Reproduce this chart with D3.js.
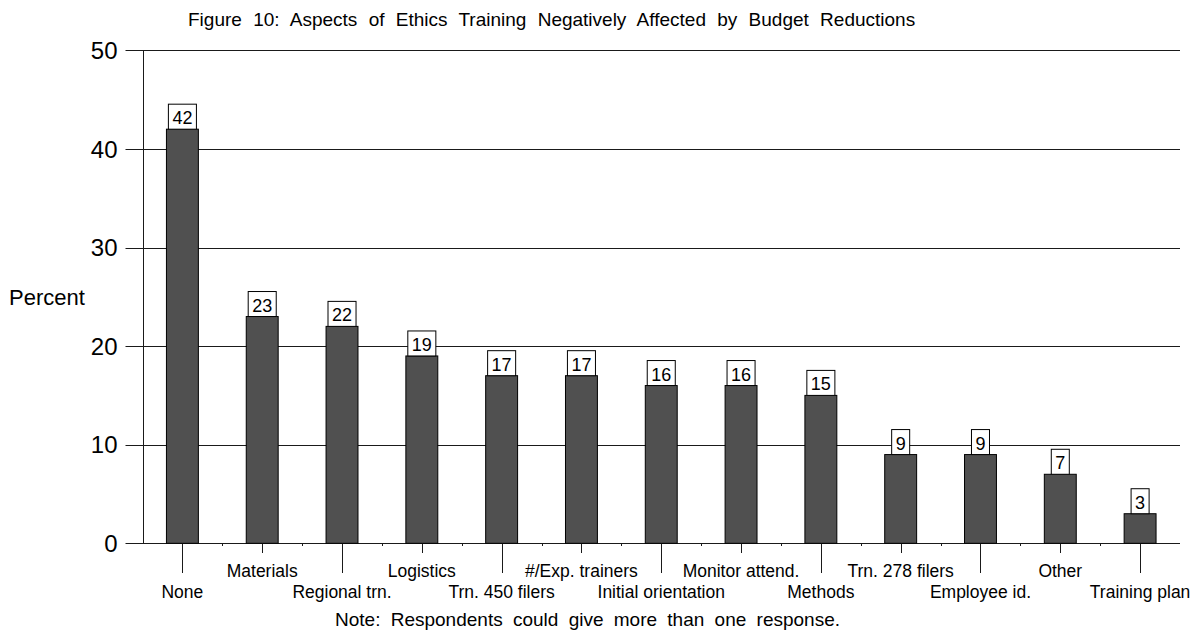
<!DOCTYPE html>
<html>
<head>
<meta charset="utf-8">
<script src="https://cdn.jsdelivr.net/npm/d3@7"></script>
<style>
  html, body { margin: 0; padding: 0; background: #fff; }
  svg { display: block; font-family: Arial, "Liberation Sans", sans-serif; }
</style>
</head>
<body>
<svg id="chart" width="1199" height="633"></svg>
<script>
// Budget-reduction impact on ethics training aspects (% of respondents)
const categories = [
  "None", "Materials", "Regional trn.", "Logistics", "Trn. 450 filers",
  "#/Exp. trainers", "Initial orientation", "Monitor attend.", "Methods",
  "Trn. 278 filers", "Employee id.", "Other", "Training plan"
];
const percents = [42, 23, 22, 19, 17, 17, 16, 16, 15, 9, 9, 7, 3];
const yTicks = [0, 10, 20, 30, 40, 50];

const titleText = "Figure 10: Aspects of Ethics Training Negatively Affected by Budget Reductions";
const yTitle = "Percent";
const noteText = "Note: Respondents could give more than one response.";

const svg = d3.select("#chart");

const plotLeft = 142.5, plotRight = 1180, plotTop = 50.3, plotBottom = 543.3;

const x = d3.scaleBand().domain(categories).range([plotLeft, plotRight]).paddingInner(0).paddingOuter(0);
const y = d3.scaleLinear().domain([0, 50]).range([plotBottom, plotTop]);

const barW = x.bandwidth() * 0.4;

// title
svg.append("text")
  .attr("x", 188).attr("y", 26)
  .attr("font-size", 19)
  .attr("word-spacing", 6)
  .attr("fill", "#000")
  .text(titleText);

// horizontal grid lines and y ticks
const grid = svg.append("g");
grid.selectAll("line").data(yTicks).join("line")
  .attr("x1", plotLeft - 17).attr("x2", plotRight)
  .attr("y1", d => Math.round(y(d)) + 0.5).attr("y2", d => Math.round(y(d)) + 0.5)
  .attr("stroke", "#1a1a1a").attr("stroke-width", 1);

grid.selectAll("text").data(yTicks).join("text")
  .attr("x", 117.5).attr("y", d => y(d))
  .attr("dy", "0.36em")
  .attr("text-anchor", "end")
  .attr("font-size", 24)
  .attr("fill", "#000")
  .text(d => d);

// y axis line
svg.append("line")
  .attr("x1", Math.round(plotLeft) + 0.5).attr("x2", Math.round(plotLeft) + 0.5)
  .attr("y1", Math.round(y(50)) + 0.5).attr("y2", Math.round(y(0)) + 0.5)
  .attr("stroke", "#1a1a1a").attr("stroke-width", 1);

// y title
svg.append("text")
  .attr("x", 9).attr("y", 305)
  .attr("font-size", 22)
  .attr("fill", "#000")
  .text(yTitle);

// small marks at category boundaries
svg.append("g").selectAll("line").data(categories.slice(1)).join("line")
  .attr("x1", d => Math.round(x(d)) + 0.5).attr("x2", d => Math.round(x(d)) + 0.5)
  .attr("y1", Math.round(y(0)) + 0.5).attr("y2", Math.round(y(0)) + 3)
  .attr("stroke", "#1a1a1a").attr("stroke-width", 1);

// category ticks (alternating long / short) and staggered labels
const cx = d => x(d) + x.bandwidth() / 2;
const xa = svg.append("g");
xa.selectAll("line").data(categories).join("line")
  .attr("x1", d => Math.round(cx(d)) + 0.5).attr("x2", d => Math.round(cx(d)) + 0.5)
  .attr("y1", Math.round(y(0)) + 0.5)
  .attr("y2", (d, i) => i % 2 === 0 ? 573 : 553)
  .attr("stroke", "#1a1a1a").attr("stroke-width", 1);

xa.selectAll("text").data(categories).join("text")
  .attr("x", d => cx(d))
  .attr("y", (d, i) => i % 2 === 0 ? 597.5 : 576.5)
  .attr("text-anchor", "middle")
  .attr("font-size", 17.5)
  .attr("fill", "#000")
  .text(d => d);

// bars
const data = categories.map((c, i) => ({ c, v: percents[i] }));
svg.append("g").selectAll("rect").data(data).join("rect")
  .attr("x", d => cx(d.c) - barW / 2)
  .attr("y", d => y(d.v))
  .attr("width", barW)
  .attr("height", d => y(0) - y(d.v))
  .attr("fill", "#505050")
  .attr("stroke", "#000")
  .attr("stroke-width", 1);

// value boxes above bars
const lab = svg.append("g").selectAll("g").data(data).join("g");
lab.each(function (d) {
  const g = d3.select(this);
  const t = g.append("text")
    .attr("x", cx(d.c))
    .attr("y", y(d.v) - 5)
    .attr("text-anchor", "middle")
    .attr("font-size", 18)
    .attr("fill", "#000")
    .text(d.v);
  const w = t.node().getComputedTextLength() + 8;
  g.insert("rect", "text")
    .attr("x", cx(d.c) - w / 2)
    .attr("y", y(d.v) - 25)
    .attr("width", w)
    .attr("height", 25)
    .attr("fill", "#fff")
    .attr("stroke", "#000")
    .attr("stroke-width", 1);
});

// footnote
svg.append("text")
  .attr("x", 335).attr("y", 626)
  .attr("font-size", 19)
  .attr("word-spacing", 5)
  .attr("fill", "#000")
  .text(noteText);
</script>
</body>
</html>
